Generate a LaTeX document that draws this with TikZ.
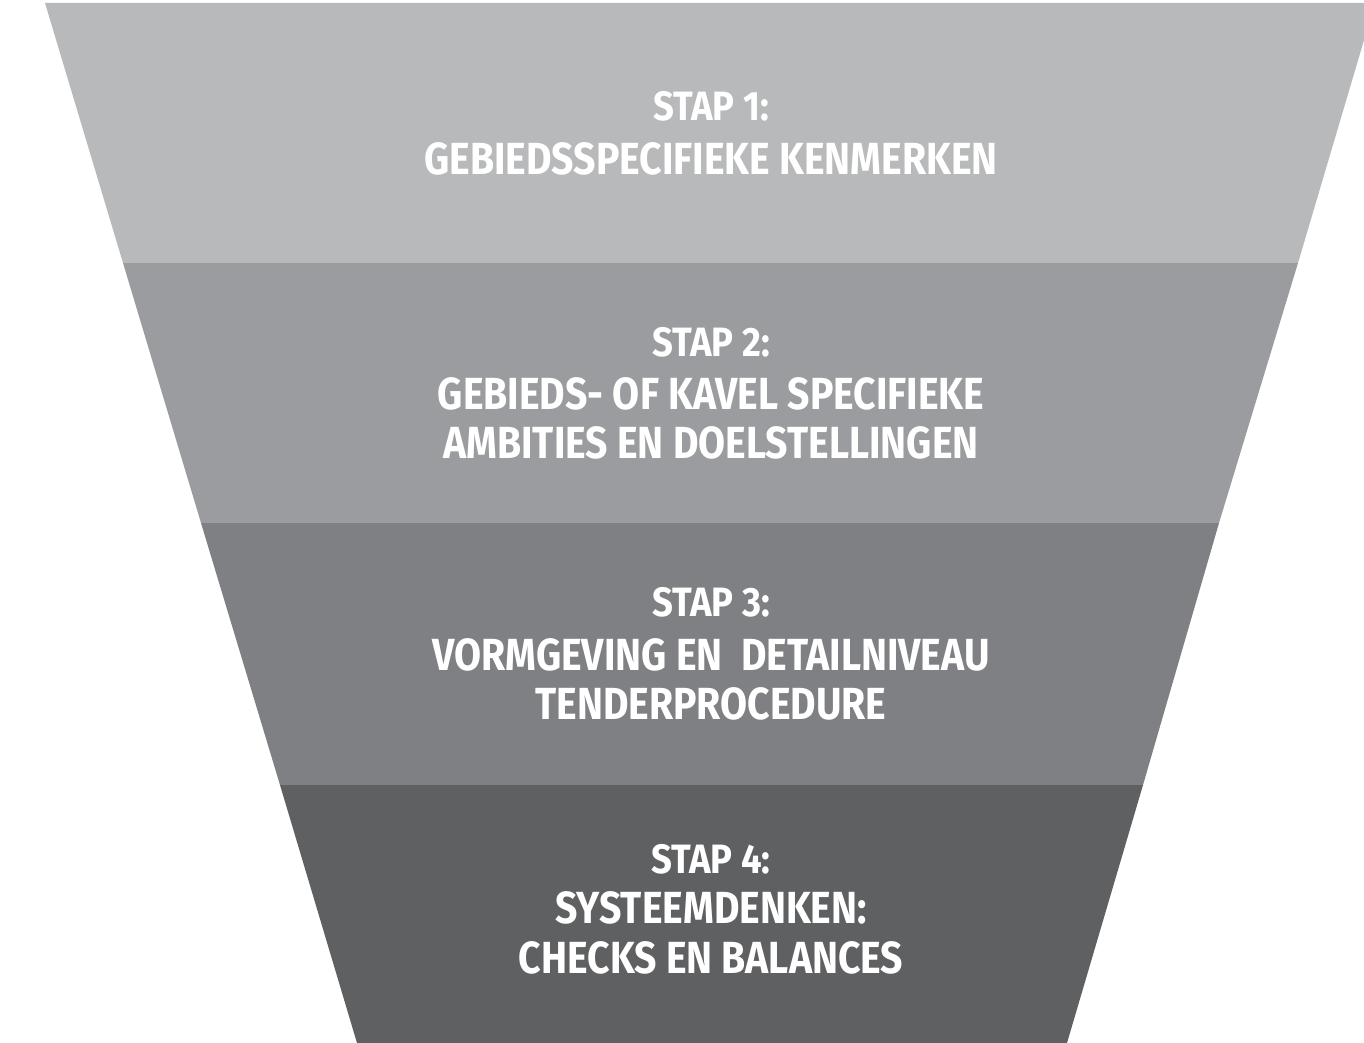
\documentclass[tikz,border=0pt]{standalone}
\usepackage{fontspec}
\newfontfamily\condfont{Fira Sans}[FakeStretch=0.87]
\newfontfamily\condtitlefont{Fira Sans}[FakeStretch=0.89]
\definecolor{bandA}{HTML}{B8B9BB}
\definecolor{bandB}{HTML}{9B9C9F}
\definecolor{bandC}{HTML}{7F8083}
\definecolor{bandD}{HTML}{5F6062}
\tikzset{
  steptitle/.style={text=white, anchor=base, inner sep=0pt, font=\condtitlefont\bfseries\fontsize{20.5}{22}\selectfont},
  stepline/.style={text=white, anchor=base, inner sep=0pt, font=\condfont\bfseries\fontsize{22.5}{24}\selectfont},
}
\begin{document}
\begin{tikzpicture}[x=0.5pt,y=-0.5pt]
\useasboundingbox (0,0) rectangle (1364,1043);
\clip (0,0) rectangle (1364,1043);
\fill[bandA] (45,3) -- (1375,3) -- (1298,263) -- (123,263) -- cycle;
\fill[bandB] (123,263) -- (1298,263) -- (1219,523) -- (201,523) -- cycle;
\fill[bandC] (201,523) -- (1219,523) -- (1143,785) -- (280,785) -- cycle;
\fill[bandD] (280,785) -- (1143,785) -- (1067,1043) -- (357,1043) -- cycle;
% step 1
\node[steptitle] (s1t) at (711,121) {STAP 1:};
\node[stepline] (s1a) at (711,175) {GEBIEDSSPECIFIEKE KENMERKEN};
% step 2
\node[steptitle] (s2t) at (711,356) {STAP 2:};
\node[stepline] (s2a) at (711,409) {GEBIEDS- OF KAVEL SPECIFIEKE};
\node[stepline] (s2b) at (711,458) {AMBITIES EN DOELSTELLINGEN};
% step 3
\node[steptitle] (s3t) at (711,616) {STAP 3:};
\node[stepline] (s3a) at (711,670) {VORMGEVING EN\ \ DETAILNIVEAU};
\node[stepline] (s3b) at (711,719) {TENDERPROCEDURE};
% step 4
\node[steptitle] (s4t) at (711,873) {STAP 4:};
\node[stepline] (s4a) at (711,923) {SYSTEEMDENKEN:};
\node[stepline] (s4b) at (711,973) {CHECKS EN BALANCES};
\end{tikzpicture}
\end{document}
